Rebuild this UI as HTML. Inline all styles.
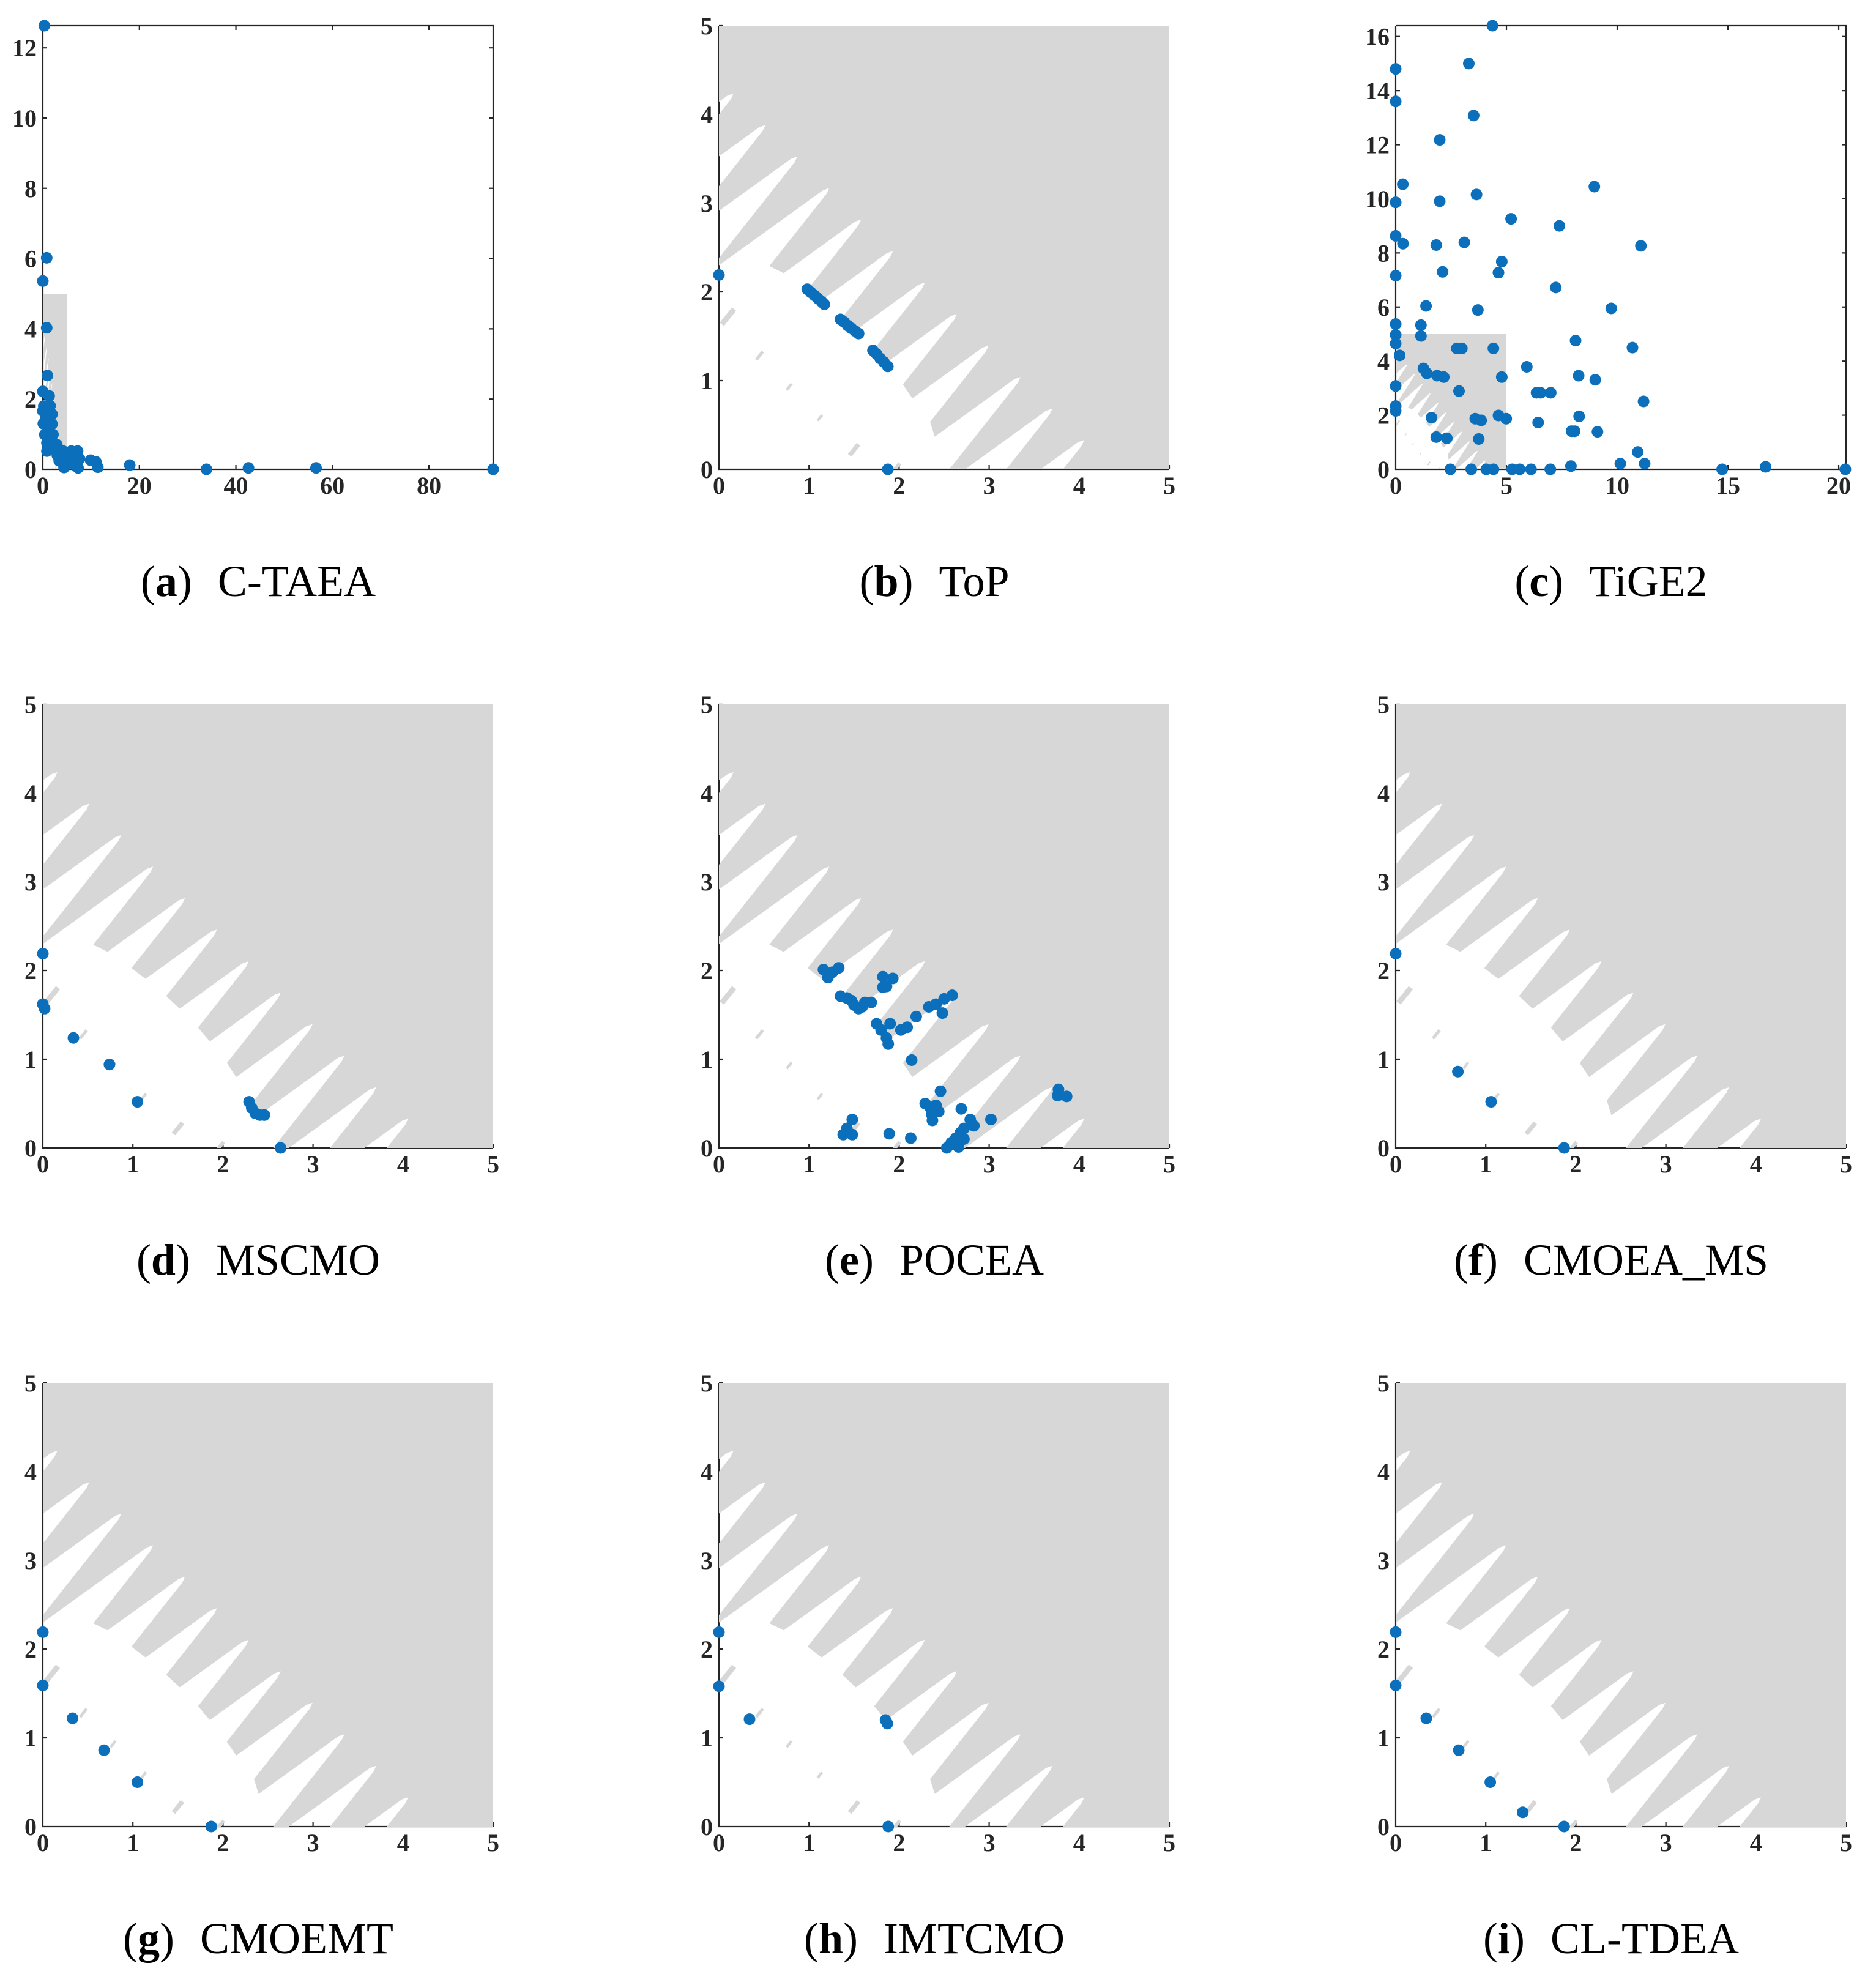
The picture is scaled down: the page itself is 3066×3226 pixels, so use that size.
<!DOCTYPE html>
<html><head><meta charset="utf-8"><style>
html,body{margin:0;padding:0;background:#fff;}
svg{display:block;}
</style></head><body>
<svg id="fig" xmlns="http://www.w3.org/2000/svg" width="3066" height="3226" viewBox="0 0 3066 3226"><defs id="defs"></defs><rect width="3066" height="3226" fill="#fff"/></svg>
<script>
// ---- data ----
const ctaeaX=[0.3,0.8,0,0.8,0.95,0,1.3,1.5,0,1.9,0.1,0.4,1.9,0.4,2.1,1.0,0.85,0.85,1.5,2.9,2.2,3.5,4.2,5,5.9,6.5,7.2,7.6,3.4,4.0,4.4,4.6,5.5,6.3,6.8,7.3,5.0,6.0,7.0,0.2,1.2,0.6,2.5,3.0,9.9,11,11.4,18,33.9,42.6,56.6,93.3];
const ctaeaY=[12.63,6.02,5.36,4.03,2.67,2.22,2.09,1.81,1.66,1.57,1.3,1.29,1.29,0.99,0.99,1.1,0.75,0.52,0.7,0.7,0.6,0.55,0.52,0.45,0.52,0.45,0.52,0.3,0.24,0.3,0.05,0.15,0.2,0.22,0.1,0.04,0.35,0.3,0.2,1.8,1.4,1.5,0.58,0.4,0.26,0.21,0.06,0.12,0,0.04,0.04,0];
const topX=[0,1.875,0.98,1.02,1.06,1.1,1.14,1.17,1.35,1.39,1.43,1.47,1.51,1.55,1.71,1.75,1.79,1.83,1.875];
const topY=[2.19,0,2.03,1.995,1.96,1.925,1.89,1.86,1.69,1.66,1.62,1.59,1.56,1.53,1.34,1.3,1.25,1.21,1.16];
const tige2X=[4.37,0,3.3,0,3.52,1.99,0.32,3.65,1.99,0,8.97,5.21,7.39,0,0.33,1.83,3.1,11.07,4.79,4.64,2.12,0,7.23,9.73,1.37,3.71,0,1.14,0,1.14,0,8.12,10.69,0.18,2.76,2.99,4.41,5.92,1.25,1.41,1.87,2.17,4.79,8.26,9.01,0,2.86,6.36,6.54,7.0,11.19,0,0,1.62,3.59,3.86,4.64,4.99,8.28,6.43,7.94,8.08,9.11,1.83,2.31,3.75,10.93,10.14,11.24,7.91,16.7,2.47,3.41,4.09,4.41,5.26,5.6,6.11,6.98,14.74,20.3];
const tige2Y=[16.4,14.8,15.0,13.6,13.08,12.18,10.54,10.16,9.91,9.87,10.45,9.26,9.0,8.63,8.34,8.29,8.39,8.26,7.68,7.27,7.3,7.16,6.72,5.95,6.04,5.89,5.37,5.33,4.97,4.93,4.65,4.76,4.5,4.21,4.47,4.47,4.47,3.79,3.73,3.55,3.46,3.41,3.41,3.46,3.31,3.08,2.89,2.83,2.83,2.83,2.51,2.34,2.16,1.91,1.87,1.81,1.99,1.87,1.96,1.73,1.41,1.41,1.39,1.19,1.15,1.12,0.64,0.21,0.21,0.12,0.09,0,0,0,0,0,0,0,0,0,0];
const mscmoX=[0,0,0.02,0.34,0.74,1.05,2.64,2.29,2.32,2.36,2.41,2.46];
const mscmoY=[2.19,1.62,1.57,1.24,0.94,0.52,0,0.52,0.45,0.39,0.37,0.37];
const poceaX=[1.16,1.21,1.26,1.33,1.82,1.93,1.82,1.86,1.35,1.42,1.47,1.5,1.55,1.59,1.62,1.69,2.33,2.41,2.5,2.59,2.48,2.19,1.75,1.8,1.9,1.86,1.88,2.02,2.09,2.14,2.46,2.29,2.34,2.41,2.36,2.44,2.37,2.69,2.79,2.83,3.02,3.77,3.76,3.86,1.42,1.48,1.38,1.48,1.89,2.13,2.53,2.58,2.63,2.66,2.68,2.72,2.72,2.61];
const poceaY=[2.01,1.92,1.98,2.03,1.93,1.91,1.81,1.82,1.71,1.69,1.66,1.61,1.57,1.59,1.64,1.64,1.59,1.62,1.68,1.72,1.52,1.48,1.4,1.33,1.4,1.24,1.17,1.33,1.36,0.99,0.64,0.5,0.46,0.48,0.38,0.41,0.31,0.44,0.32,0.25,0.32,0.66,0.59,0.58,0.22,0.32,0.15,0.15,0.16,0.11,0,0.06,0.11,0.01,0.17,0.22,0.1,0.04];
const cmoeamsX=[0,0.69,1.06,1.87];
const cmoeamsY=[2.19,0.86,0.52,0];
const cmoemtX=[0,0,0.33,0.68,1.05,1.87];
const cmoemtY=[2.19,1.59,1.22,0.86,0.5,0];
const imtcmoX=[0,0,0.34,1.85,1.87,1.88];
const imtcmoY=[2.19,1.58,1.21,1.2,1.16,0];
const cltdeaX=[0,0,0.34,0.7,1.05,1.41,1.87];
const cltdeaY=[2.19,1.59,1.22,0.86,0.5,0.16,0];
// tick labels
const ticksA_X=[0,20,40,60,80], ticksA_Y=[0,2,4,6,8,10,12];
const ticks5=[0,1,2,3,4,5];
const ticksC_X=[0,5,10,15,20], ticksC_Y=[0,2,4,6,8,10,12,14,16];

const NS='http://www.w3.org/2000/svg';
const svg=document.getElementById('fig');
const defs=document.getElementById('defs');
function mk(tag,parent){const e=document.createElementNS(NS,tag);parent.appendChild(e);return e;}

const COLS=[70,1175,2281], ROWS=[767,1876,2985], W=736, H=725;
const panels=[
 {key:'a',label:'a',name:'C-TAEA',c:0,r:0,xmax:93.3,ymax:12.63,xt:ticksA_X,yt:ticksA_Y,X:ctaeaX,Y:ctaeaY,box:true},
 {key:'b',label:'b',name:'ToP',c:1,r:0,xmax:5,ymax:5,xt:ticks5,yt:ticks5,X:topX,Y:topY,box:false},
 {key:'c',label:'c',name:'TiGE2',c:2,r:0,xmax:20.33,ymax:16.4,xt:ticksC_X,yt:ticksC_Y,X:tige2X,Y:tige2Y,box:true},
 {key:'d',label:'d',name:'MSCMO',c:0,r:1,xmax:5,ymax:5,xt:ticks5,yt:ticks5,X:mscmoX,Y:mscmoY,box:false},
 {key:'e',label:'e',name:'POCEA',c:1,r:1,xmax:5,ymax:5,xt:ticks5,yt:ticks5,X:poceaX,Y:poceaY,box:false},
 {key:'f',label:'f',name:'CMOEA_MS',c:2,r:1,xmax:5,ymax:5,xt:ticks5,yt:ticks5,X:cmoeamsX,Y:cmoeamsY,box:false},
 {key:'g',label:'g',name:'CMOEMT',c:0,r:2,xmax:5,ymax:5,xt:ticks5,yt:ticks5,X:cmoemtX,Y:cmoemtY,box:false},
 {key:'h',label:'h',name:'IMTCMO',c:1,r:2,xmax:5,ymax:5,xt:ticks5,yt:ticks5,X:imtcmoX,Y:imtcmoY,box:false},
 {key:'i',label:'i',name:'CL-TDEA',c:2,r:2,xmax:5,ymax:5,xt:ticks5,yt:ticks5,X:cltdeaX,Y:cltdeaY,box:false}
];

const mainRegion=[[-1,-1],[-1,2.29],[0,2.29],[0.2,2.36],[0.56,2.29],[0.76,2.19],[0.98,2.03],[1.16,1.89],[1.37,1.71],[1.54,1.55],[1.72,1.36],[1.87,1.18],[2.04,0.96],[2.16,0.78],[2.33,0.58],[2.41,0.32],[2.55,0],[2.6,-1]];
const specks=[[0.1,1.72,0.22,0.06],[0.45,1.28,0.12,0.035],[0.78,0.93,0.09,0.03],[1.12,0.58,0.08,0.03],[1.5,0.22,0.16,0.05],[1.97,0.02,0.12,0.04]];

function pts(arr,sx,sy){return arr.map(p=>sx(p[0]).toFixed(1)+','+sy(p[1]).toFixed(1)).join(' ');}

panels.forEach(p=>{
  const x0=COLS[p.c], yb=ROWS[p.r], yt=yb-H, x1=x0+W;
  const sx=v=>x0+v/p.xmax*W, sy=v=>yb-v/p.ymax*H;
  const g=mk('g',svg);
  
  

  const ax=mk('g',g);
  
  
  ax.setAttribute('stroke','#262626');ax.setAttribute('stroke-width','2.2');ax.setAttribute('fill','none');
  let d='M'+x0+' '+yt+'V'+yb+'H'+x1;
  if(p.box) d+='V'+yt+'H'+x0;
  p.xt.forEach(v=>{const x=sx(v);d+='M'+x+' '+yb+'v-7';if(p.box)d+='M'+x+' '+yt+'v7';});
  p.yt.forEach(v=>{const y=sy(v);d+='M'+x0+' '+y+'h7';if(p.box)d+='M'+x1+' '+y+'h-7';});
  const ap=mk('path',ax);ap.setAttribute('d',d);

  const m=mk('mask',defs);
  m.setAttribute('id','mask-'+p.key);
  m.setAttribute('maskUnits','userSpaceOnUse');
  m.setAttribute('x',0);m.setAttribute('y',0);m.setAttribute('width',3066);m.setAttribute('height',3226);
  const mr=mk('rect',m);mr.setAttribute('x',0);mr.setAttribute('y',0);mr.setAttribute('width',3066);mr.setAttribute('height',3226);mr.setAttribute('fill','#fff');
  const mp=mk('polygon',m);mp.setAttribute('points',pts(mainRegion,sx,sy));mp.setAttribute('fill','#000');
  for(let k=0;k<12;k++){
    const tx=0.152+0.354*k, ty=4.23-0.355*k, L=1.8;
    const st=[[tx+0.01,ty+0.005],[tx-0.06,ty-0.02],[tx-0.4,ty-0.27],[tx-L,ty-0.72*L],[tx-L,ty-1.3*L],[tx-0.3,ty-0.42],[tx-0.02,ty-0.06]];
    const sp=mk('polygon',m);sp.setAttribute('points',pts(st,sx,sy));sp.setAttribute('fill','#000');
  }
  specks.forEach(s=>{
    const [cx,cy,l,w]=s, ux=0.62*l/2, uy=0.78*l/2, px=-0.78*w/2, py=0.62*w/2;
    const q=[[cx-ux-px,cy-uy-py],[cx-ux+px,cy-uy+py],[cx+ux+px,cy+uy+py],[cx+ux-px,cy+uy-py]];
    const spk=mk('polygon',m);spk.setAttribute('points',pts(q,sx,sy));spk.setAttribute('fill','#fff');
  });
  const gx1=Math.min(sx(5),x1), gy0=Math.max(sy(5),yt);
  const gr=mk('rect',g);
  
  
  gr.setAttribute('x',x0);gr.setAttribute('y',gy0);gr.setAttribute('width',gx1-x0);gr.setAttribute('height',yb-gy0);
  gr.setAttribute('fill','#d7d7d7');gr.setAttribute('mask','url(#mask-'+p.key+')');

  p.xt.forEach(v=>{
    const t=mk('text',g);
    
    
    t.setAttribute('x',sx(v));t.setAttribute('y',yb+40);t.setAttribute('text-anchor','middle');
    t.setAttribute('style','font:bold 40px "Liberation Serif",serif;fill:#262626');
    t.textContent=v;
  });
  p.yt.forEach(v=>{
    const t=mk('text',g);
    
    
    t.setAttribute('x',x0-10);t.setAttribute('y',sy(v)+14);t.setAttribute('text-anchor','end');
    t.setAttribute('style','font:bold 40px "Liberation Serif",serif;fill:#262626');
    t.textContent=v;
  });

  const pg=mk('g',g);
  
  
  p.X.forEach((xv,i)=>{
    const c=mk('circle',pg);
    
    
    c.setAttribute('cx',sx(xv).toFixed(1));c.setAttribute('cy',sy(p.Y[i]).toFixed(1));c.setAttribute('r',9.5);c.setAttribute('fill','#0b6fbb');
  });

  const cap=mk('text',g);
  
  
  cap.setAttribute('x',x0+352);cap.setAttribute('y',yb+207);cap.setAttribute('text-anchor','middle');
  cap.setAttribute('style','font:72px "Liberation Serif",serif;fill:#000');
  const t1=mk('tspan',cap);t1.textContent='(';
  const t2=mk('tspan',cap);t2.setAttribute('font-weight','bold');t2.textContent=p.label;
  const t3=mk('tspan',cap);t3.textContent=')';
  const t4=mk('tspan',cap);t4.setAttribute('dx','42');t4.textContent=p.name;
});
</script>
</body></html>
